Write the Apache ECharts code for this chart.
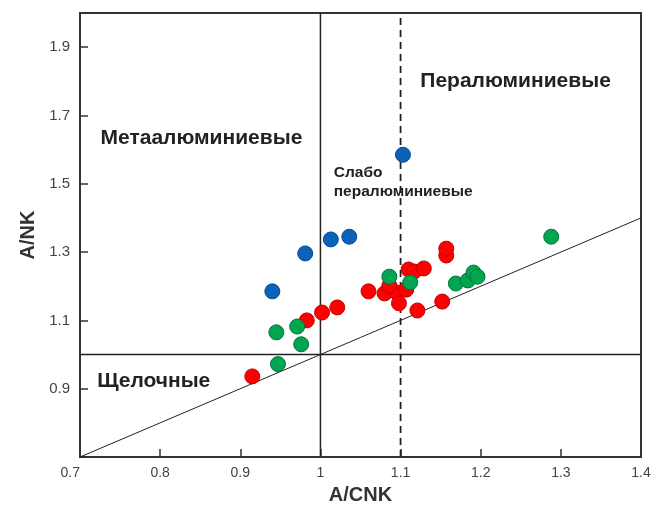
<!DOCTYPE html>
<html><head><meta charset="utf-8">
<script src="https://cdn.jsdelivr.net/npm/echarts@6/dist/echarts.min.js"></script>
<style>html,body{margin:0;padding:0;background:#fff}#c{width:659px;height:509px}</style>
</head><body><div id="c"></div>
<script>
const xTicks = [0.7, 0.8, 0.9, 1.0, 1.1, 1.2, 1.3, 1.4];
const yTicks = [0.7, 0.9, 1.1, 1.3, 1.5, 1.7, 1.9];
const bluePts = [[0.940,1.185],[0.981,1.296],[1.013,1.337],[1.036,1.345],[1.103,1.585]];
const greenPts = [[0.945,1.065],[0.947,0.972],[0.971,1.082],[0.976,1.030],[1.086,1.228],[1.112,1.211],[1.169,1.208],[1.184,1.217],[1.191,1.240],[1.196,1.228],[1.288,1.345]];
const redPts = [[0.915,0.936],[0.983,1.100],[1.002,1.123],[1.021,1.138],[1.060,1.185],[1.080,1.179],[1.095,1.182],[1.098,1.150],[1.107,1.190],[1.086,1.202],[1.110,1.249],[1.117,1.243],[1.129,1.252],[1.121,1.129],[1.152,1.155],[1.157,1.290],[1.157,1.310]];
const lineMetaPer = [[1.0,0.7],[1.0,2.0]];
const lineAlk = [[0.7,1.0],[1.4,1.0]];
const lineWeak = [[1.1,0.7],[1.1,2.0]];
const lineDiag = [[0.7,0.7],[1.4,1.4]];
const fieldLabels = [
  {name:'Метаалюминиевые', value:[0.725,1.634], size:21},
  {name:'Пералюминиевые', value:[1.124,1.80], size:21},
  {name:'Слабо', value:[1.016,1.532], size:15.5},
  {name:'пералюминиевые', value:[1.016,1.478], size:15.5},
  {name:'Щелочные', value:[0.721,0.922], size:21}
];
const FONT = '"Liberation Sans", Arial, sans-serif';
const chart = echarts.init(document.getElementById('c'));
function lineSeries(data, type, width){
  return {type:'line', data:data, symbol:'none', silent:true, z:1,
    lineStyle:{color:'#222', width:width, type:type}, animation:false};
}
function pts(data, color, border){
  return {type:'scatter', data:data, symbolSize:15, z:3, animation:false,
    itemStyle:{color:color, borderColor:border, borderWidth:1, opacity:1}};
}
chart.setOption({
  animation:false,
  textStyle:{fontFamily:FONT},
  grid:{left:80, right:18, top:13, bottom:52, outerBoundsMode:'none', containLabel:false,
    show:true, borderColor:'#333', borderWidth:2},
  xAxis:{type:'value', min:0.7, max:1.4, interval:0.1,
    name:'A/CNK', nameLocation:'middle', nameGap:28,
    nameTextStyle:{fontSize:20, fontWeight:'bold', color:'#333', fontFamily:FONT},
    axisLine:{show:true, onZero:false, lineStyle:{color:'#333', width:2}},
    axisTick:{show:true, inside:true, length:8, lineStyle:{color:'#333', width:1.5}},
    axisLabel:{fontSize:14, color:'#444', margin:9, alignMinLabel:'right', fontFamily:FONT,
      formatter:v=>{const t=xTicks.find(k=>Math.abs(k-v)<1e-6); return t===undefined?'':(t===1?'1':t.toFixed(1));}},
    splitLine:{show:false}},
  yAxis:{type:'value', min:0.7, max:2.0, interval:0.2,
    name:'A/NK', nameLocation:'middle', nameGap:42, nameRotate:90,
    nameTextStyle:{fontSize:20, fontWeight:'bold', color:'#333', fontFamily:FONT},
    axisLine:{show:true, onZero:false, lineStyle:{color:'#333', width:2}},
    axisTick:{show:true, inside:true, length:8, lineStyle:{color:'#333', width:1.5}},
    axisLabel:{fontSize:15, color:'#444', margin:10, showMinLabel:false, showMaxLabel:false, fontFamily:FONT,
      formatter:v=>{const t=yTicks.find(k=>Math.abs(k-v)<1e-6); return t===undefined?'':t.toFixed(1);}},
    splitLine:{show:false}},
  series:[
    lineSeries(lineMetaPer,'solid',1.5),
    lineSeries(lineAlk,'solid',1.5),
    lineSeries(lineWeak,[7,5],1.8),
    lineSeries(lineDiag,'solid',1),
    pts(redPts,'#ff0000','#c00000'),
    pts(greenPts,'#00a54f','#00733a'),
    pts(bluePts,'#0a63b8','#074a8c'),
    {type:'scatter', data:fieldLabels.map(d=>({name:d.name, value:d.value,
        label:{show:true, formatter:'{b}', position:'right', distance:0, fontSize:d.size, fontWeight:'bold', color:'#222', fontFamily:FONT}})),
      symbolSize:1, silent:true, z:4, itemStyle:{color:'rgba(0,0,0,0)', opacity:1}}
  ]
});
</script></body></html>
